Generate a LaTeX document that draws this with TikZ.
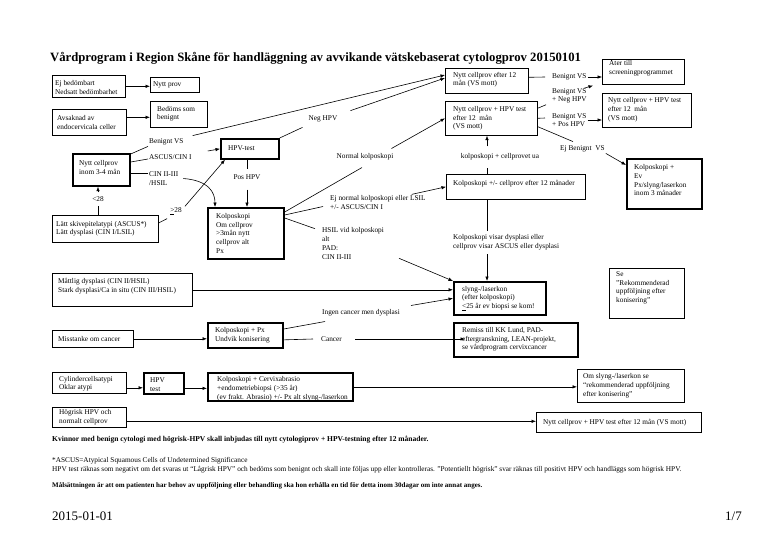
\documentclass[tikz,border=0pt]{standalone}
\usepackage{fontspec}
\setmainfont{Liberation Serif}
\usetikzlibrary{arrows.meta}
\newcommand\mybox[9]{%
  \node[#1, minimum width=#5pt, minimum height=#6pt] (#2) at (#3,#4) {};
  \node[btxt] (#2t) at ([xshift=#7pt,yshift=#8pt]#2.west) {#9};}
\begin{document}
\begin{tikzpicture}[x=1pt,y=-1pt,
  every node/.style={font=\fontsize{7.3}{8.7}\selectfont},
  box/.style={draw, line width=0.6pt, anchor=north west, inner sep=0pt},
  tbox/.style={box, line width=1.7pt},
  btxt/.style={anchor=west, align=left, inner sep=0pt},
  lbl/.style={inner sep=1pt, align=left},
  arr/.style={-{Latex[length=4.5pt,width=3.5pt]}, line width=0.6pt},
  ln/.style={line width=0.6pt}]
\useasboundingbox (0,0) rectangle (768,543);

\node[anchor=west, inner sep=0, font=\fontsize{12.7}{15}\selectfont\bfseries] (title) at (50,58) {Vårdprogram i Region Skåne för handläggning av avvikande vätskebaserat cytologprov 20150101};

% boxes: style, name, x, y, W, H, text x-pad, text y-shift, text
\mybox{box}{b1}{52}{75}{73}{22}{3}{-1.5}{Ej bedömbart\\Nedsatt bedömbarhet}
\mybox{box}{b2}{150}{77}{49}{15}{3}{0}{Nytt prov}
\mybox{box}{b3}{52}{109}{74}{26}{5}{0}{Avsaknad av\\endocervicala celler}
\mybox{box}{b4}{150}{101}{57}{26}{7}{0.5}{Bedöms som\\benignt}
\mybox{box}{b5}{445}{68}{83}{25}{8}{1}{Nytt cellprov efter 12\\mån (VS mott)}
\mybox{box}{b6}{602}{59}{82}{25}{7}{4}{Åter till\\screeningprogrammet}
\mybox{box}{b7}{445}{101}{92}{34}{8}{0}{Nytt cellprov + HPV test\\efter 12~ mån\\(VS mott)}
\mybox{box}{b8}{602}{93}{89}{34}{6}{0.5}{Nytt cellprov + HPV test\\efter 12~ mån\\(VS mott)}
\mybox{tbox}{b9}{626}{158}{75}{50}{8}{3.5}{Kolposkopi +\\Ev\\Px/slyng/laserkon\\inom 3 månader}
\mybox{box}{b10}{446}{174}{139}{25}{7}{3.5}{Kolposkopi +/- cellprov efter 12 månader}
\mybox{tbox}{b11}{453}{281}{92}{33}{9}{0}{slyng-/laserkon\\(efter kolposkopi)\\\underline{<}25 år ev biopsi se kom!}
\mybox{box}{b12}{609}{268}{75}{50}{7}{5.5}{Se\\"Rekommenderad\\uppföljning efter\\konisering"}
\mybox{tbox}{b13}{453}{322}{124}{34}{9}{0.5}{Remiss till KK Lund, PAD-\\eftergranskning, LEAN-projekt,\\se vårdprogram cervixcancer}
\mybox{box}{b14}{52}{273}{140}{33}{6}{3.5}{Måttlig dysplasi (CIN II/HSIL)\\Stark dysplasi/Ca in situ (CIN III/HSIL)}
\mybox{box}{b15}{52}{330}{81}{17}{6}{0}{Misstanke om cancer}
\mybox{tbox}{b16}{207}{322}{75}{25}{8}{0}{Kolposkopi + Px\\Undvik konisering}
\mybox{tbox}{b17}{72}{153}{57}{32}{7}{2.5}{Nytt cellprov\\inom 3-4 mån}
\mybox{tbox}{b18}{220}{138}{58}{20}{8}{1}{HPV-test}
\mybox{tbox}{b19}{207}{207}{76}{51}{9}{0}{Kolposkopi\\Om cellprov\\>3mån nytt\\cellprov alt\\Px}
\mybox{box}{b20}{52}{215}{106}{27}{4}{0}{Lätt skivepitelatypi (ASCUS*)\\Lätt dysplasi (CIN I/LSIL)}
\mybox{box}{b21}{52}{372}{74}{21}{7}{-1}{Cylindercellsatypi\\Oklar atypi}
\mybox{tbox}{b22}{143}{372}{40}{21}{7}{-1}{HPV\\test}
\mybox{tbox}{b23}{207}{372}{145}{28}{10}{-2}{Kolposkopi + Cervixabrasio\\+endometriebiopsi (>35 år)\\(ev frakt. Abrasio) +/- Px alt slyng-/laserkon}
\mybox{box}{b24}{577}{369}{107}{33}{6}{0}{Om slyng-/laserkon se\\``rekommenderad uppföljning\\efter konisering''}
\mybox{box}{b25}{52}{407}{74}{20}{7}{0}{Högrisk HPV och\\normalt cellprov}
\mybox{box}{b26}{536}{412}{165}{20}{7}{0}{Nytt cellprov + HPV test efter 12 mån (VS mott)}

% labels
\node[lbl, anchor=west] (lBen1) at (551,77) {Benignt VS};
\node[lbl, anchor=west] (lNeg2) at (551,96) {Benignt VS\\+ Neg HPV};
\node[lbl, anchor=west] (lPos2) at (551,120) {Benignt VS\\+ Pos HPV};
\node[lbl, anchor=west] (lEjBen) at (559,149) {Ej Benignt~ VS};
\node[lbl, inner ysep=7pt] (lKolpua) at (500,157) {kolposkopi + cellprovet ua};
\node[lbl, anchor=west, inner ysep=4pt] (lKolpvisar) at (452,242.5) {Kolposkopi visar dysplasi eller\\cellprov visar ASCUS eller dysplasi};
\node[lbl] (lNeg) at (323,119) {Neg HPV};
\node[lbl, anchor=west] (lBenVS) at (148,142) {Benignt VS};
\node[lbl, anchor=west] (lAscus) at (148,157) {ASCUS/CIN I};
\node[lbl, anchor=west] (lCin) at (148,178.5) {CIN II-III\\/HSIL};
\node[lbl, inner ysep=5pt] (lPosHPV) at (247,177) {Pos HPV};
\node[lbl, inner ysep=4pt] (l28) at (98,199) {<28};
\node[lbl] (lGe28) at (176,211) {\underline{>}28};
\node[lbl] (lNormal) at (365,157) {Normal kolposkopi};
\node[lbl, anchor=west] (lEjNormal) at (329,202.5) {Ej normal kolposkopi eller LSIL\\+/- ASCUS/CIN I};
\node[lbl, anchor=west] (lHsil) at (321,243.5) {HSIL vid kolposkopi\\alt\\PAD:\\CIN II-III};
\node[lbl, anchor=west] (lIngen) at (321,313) {Ingen cancer men dysplasi};
\node[lbl, anchor=west] (lCancer) at (320,339) {Cancer};

% connectors
\draw[arr] (b1.east) -- (b1.east -| b2.west);
\draw[arr] ([yshift=5pt]b3.east) -- ([yshift=5pt]b3.east -| b4.west);
\draw[ln] ([yshift=3.5pt]b5.east) -- ([xshift=-6pt]lBen1.west);
\draw[arr] (lBen1.east) -- (lBen1.east -| b6.west);
\draw[ln] ([yshift=10pt]b7.east) -- ([xshift=-5pt]lNeg2.south west);
\draw[arr] ([xshift=-4pt,yshift=-1pt]lNeg2.north east) -- ([xshift=-9pt,yshift=-1pt]b6.south west);
\draw[ln] (b7.east) -- ([xshift=-6pt,yshift=2pt]lPos2.west);
\draw[arr] (lPos2.east) -- (lPos2.east -| b8.west);
\draw[ln] ([yshift=9pt]b7.south east) -- ([xshift=14pt,yshift=3pt]lEjBen.north west);
\draw[arr] (lEjBen.south east) -- ([yshift=-7pt]b9.north west);
\draw[ln] ([xshift=41pt]b10.north west) -- ([xshift=41pt]b10.north west |- lKolpua.south);
\draw[arr] ([xshift=41pt]b10.north west |- lKolpua.north) -- ([xshift=41pt]b10.north west |- b7.south);
\draw[ln] ([xshift=41pt]b10.south west) -- ([xshift=41pt]b10.south west |- lKolpvisar.north);
\draw[arr] ([xshift=41pt]b10.south west |- lKolpvisar.south) -- ([xshift=41pt]b10.south west |- b11.north);
\draw[arr] (b14.east) -- (b14.east -| b11.west);
\draw[arr] ([xshift=14pt,yshift=2pt]lHsil.south east) -- (b11.north west);
\draw[ln] ([yshift=-7pt]b16.north east) -- ([xshift=4pt,yshift=-4pt]lIngen.south west);
\draw[arr] ([xshift=10pt,yshift=3pt]lIngen.north east) -- (b11.west);
\draw[ln] ([yshift=-4.5pt]b16.east) -- ([xshift=-7pt]lCancer.west);
\draw[arr] ([xshift=12pt]lCancer.east) -- ([xshift=12pt]lCancer.east -| b13.west);
\draw[arr] (b15.east) -- (b15.east -| b16.west);
\draw[ln] ([yshift=-1pt]b17.north east) -- (lBenVS.south west);
\draw[ln] ([yshift=-9pt]b17.north east) -- ([yshift=-2pt]lAscus.west);
\draw[ln] ([yshift=-20pt]b17.north east) -- ([yshift=-20pt]b17.north east -| lCin.west);
\draw[arr] ([xshift=8pt,yshift=2pt]lBenVS.north east) -- ([yshift=-7pt]b5.north west);
\draw[ln] (b18.north east) -- ([xshift=-5pt,yshift=-4pt]lNeg.south west);
\draw[arr] ([xshift=12pt,yshift=4pt]lNeg.north east) -- ([yshift=-10pt]b5.north west);
\draw[arr] ([xshift=15pt,yshift=6pt]lAscus.east) -- (b18.west);
\draw[ln] (b18.south -| lPosHPV.north) -- (lPosHPV.north);
\draw[arr] ([yshift=-5pt]lPosHPV.south) -- (lPosHPV.south |- b19.north);
\draw[arr] ([xshift=4pt,yshift=-8pt]lCin.north east) .. controls +(25,2) and +(0,-15) .. ([xshift=8pt]b19.north west);
\draw[ln] (l28.south |- b20.north) -- (l28.south);
\draw[arr] (l28.north) -- (l28.north |- b17.south);
\draw[ln] ([yshift=-8pt]b20.north east) -- ([xshift=-2pt,yshift=-3pt]lGe28.south west);
\draw[arr] ([xshift=2pt]lGe28.north east) -- ([xshift=5pt]b18.south west);
\draw[ln] ([yshift=-5pt]b19.north east) -- ([xshift=-3pt,yshift=-6pt]lNormal.south);
\draw[arr] ([xshift=-3pt,yshift=4pt]lNormal.north east) -- (b7.west);
\draw[ln] ([yshift=-8pt]b19.north east) -- ([xshift=-6pt,yshift=-4pt]lEjNormal.west);
\draw[arr] ([xshift=-15pt]lEjNormal.north east) -- (b10.west);
\draw[ln] ([yshift=-11pt]b19.north east) -- ([xshift=-6pt,yshift=-2pt]lHsil.north west);
\draw[arr] ([yshift=-5pt]b21.east) -- ([yshift=-5pt]b21.east -| b22.west);
\draw[arr] ([yshift=-5pt]b22.east) -- ([yshift=-5pt]b22.east -| b23.west);
\draw[arr] (b23.east) -- (b23.east -| b24.west);
\draw[arr] ([yshift=-4pt]b25.east) -- ([yshift=-4pt]b25.east -| b26.west);

% footer texts
\node[anchor=west, inner sep=0, font=\fontsize{7.5}{8}\selectfont\bfseries] (kv) at (52,440) {Kvinnor med benign cytologi med högrisk-HPV skall inbjudas till nytt cytologiprov + HPV-testning efter 12 månader.};
\node[anchor=west, inner sep=0, font=\fontsize{7.3}{8}\selectfont] (asc) at (52,461) {*ASCUS=Atypical Squamous Cells of Undetermined Significance};
\node[anchor=west, inner sep=0, font=\fontsize{7.3}{8}\selectfont] (hpvt) at (52,469.5) {HPV test räknas som negativt om det svaras ut “Lågrisk HPV” och bedöms som benignt och skall inte följas upp eller kontrolleras. "Potentiellt högrisk” svar räknas till positivt HPV och handläggs som högrisk HPV.};
\node[anchor=west, inner sep=0, font=\fontsize{7}{8}\selectfont\bfseries] (mal) at (52,486) {Målsättningen är att om patienten har behov av uppföljning eller behandling ska hon erhålla en tid för detta inom 30dagar om inte annat anges.};
\node[anchor=west, inner sep=0, font=\fontsize{13}{15}\selectfont] (date) at (52,516) {2015-01-01};
\node[anchor=east, inner sep=0, font=\fontsize{13}{15}\selectfont] (page) at (742,516) {1/7};
\end{tikzpicture}
\end{document}
